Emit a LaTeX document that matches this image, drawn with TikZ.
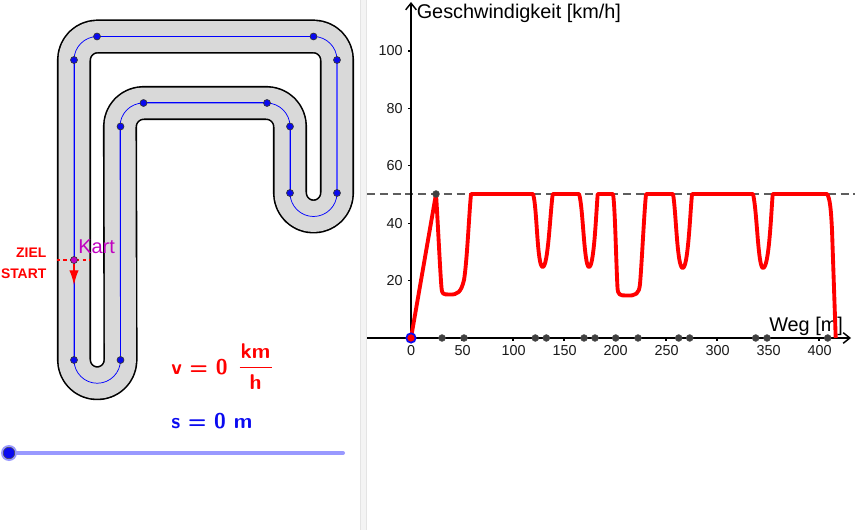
\documentclass[tikz,border=0pt]{standalone}
\usepackage{fontspec}
\setmainfont{Liberation Sans}
\usetikzlibrary{arrows.meta}
\definecolor{trackgray}{HTML}{D9D9D9}
\definecolor{ptblue}{HTML}{0A0AF0}
\definecolor{kartpurple}{HTML}{C000C0}
\definecolor{dotgray}{HTML}{404040}
\definecolor{slider}{HTML}{9999FF}
\definecolor{sep}{HTML}{E4E4E4}
\tikzset{
  pt/.style={circle,fill=ptblue,draw=black!80,line width=0.5pt,inner sep=0pt,minimum size=5.2pt},
  axdot/.style={circle,fill=dotgray,draw=black!70,line width=0.3pt,inner sep=0pt,minimum size=5.2pt},
  axisline/.style={line width=1.6pt,black,-{Straight Barb[length=5pt,width=8pt,line width=1.1pt]}},
  ticklab/.style={font=\fontsize{10.8pt}{12pt}\selectfont,inner sep=0pt,text=black!90},
  axtitle/.style={font=\fontsize{14.9pt}{16pt}\selectfont,inner sep=0pt,text=black},
  redlab/.style={font=\fontsize{10.4pt}{11pt}\selectfont\bfseries,text=red,inner sep=0pt,anchor=east},
  mathred/.style={font=\fontsize{16pt}{18pt}\selectfont\sffamily\bfseries,text=red,inner sep=0pt},
  mathblue/.style={font=\fontsize{16pt}{18pt}\selectfont\sffamily\bfseries,text=ptblue,inner sep=0pt},
}
\newcommand{\trackpath}{
  (74,60) arc[start angle=180,end angle=270,radius=23.5] -- (313.5,36.5)
  arc[start angle=270,end angle=360,radius=23.5] -- (337,193)
  arc[start angle=0,end angle=180,radius=23.5] -- (290,126.5)
  arc[start angle=0,end angle=-90,radius=23.5] -- (143.5,103)
  arc[start angle=-90,end angle=-180,radius=23.5] -- (120.5,360)
  arc[start angle=0,end angle=180,radius=23.25] -- cycle
}
\begin{document}
\begin{tikzpicture}[x=0.75pt,y=-0.75pt]
\useasboundingbox (0,0) rectangle (855,530);
% separator
\fill[sep!40] (360,0) rectangle (366,530);
\draw[sep,line width=0.6pt] (360,0) -- (360,530);
\draw[sep,line width=0.6pt] (366,0) -- (366,530);
% track
\draw[black,line width=25.6pt,line join=round] \trackpath;
\draw[trackgray,line width=23.2pt,line join=round] \trackpath;
\draw[blue,line width=0.55pt] \trackpath;
\draw[blue,line width=0.75pt] (74,60) -- (74,360) (120.5,126.5) -- (120.5,360) (97,36.5) -- (313.5,36.5) (143.5,103) -- (267,103) (290,126.5) -- (290,193);
\draw[blue!65,line width=1.2pt] (337,60) -- (337,193);
\foreach \n/\p in {a/{97,36.5},b/{313.5,36.5},c/{74,60},d/{337,60},e/{143.5,103},f/{267,103},g/{120.5,126.5},h/{290,126.5},i/{290,193},j/{337,193},k/{74,360},l/{120.5,360}}
  \node[pt] (p\n) at (\p) {};
% start line
\coordinate (sl) at (57,260); \coordinate (sr) at (90,260);
\draw[red,line width=1.7pt,dash pattern=on 2.4pt off 2.4pt] (sl) -- (sr);
\node[pt,fill=kartpurple] (kart) at (74,260) {};
\coordinate (arrowend) at (74,285);
\draw[red,line width=1pt,-{Latex[length=11pt,width=7pt]}] (kart) -- (arrowend);
\node[font=\fontsize{15pt}{16pt}\selectfont,text=kartpurple,inner sep=0pt,anchor=west] (kartlab) at (78,247) {Kart};
\node[redlab] (ziel) at (46.5,253) {ZIEL};
\node[redlab] (start) at (46.5,274) {START};
% formulas
\node[mathred,anchor=west] (v) at (171,367) {v = 0};
\node[mathred] (km) at (255.5,351.5) {km};
\node[mathred] (hh) at (255.5,382) {h};
\draw[red,line width=0.7pt] (239.5,367.5) -- (271.5,367.5);
\node[mathblue,anchor=west] (s) at (171,421) {s = 0 m};
% slider
\coordinate (sliderend) at (343,453);
\node[circle,fill=slider,inner sep=0pt,minimum size=12pt] (halo) at (9,453) {};
\draw[slider,line width=3pt,line cap=round] (halo.center) -- (sliderend);
\node[circle,fill=ptblue,draw=black!70,line width=0.4pt,inner sep=0pt,minimum size=8.6pt] (knob) at (9,453) {};
% graph
\coordinate (xs) at (367,338); \coordinate (xe) at (851,338);
\coordinate (ys) at (411,338); \coordinate (ye) at (411,2);
\coordinate (ds) at (367,194); \coordinate (de) at (855,194);
\draw[dotgray!85,line width=0.85pt,dash pattern=on 6pt off 3.6pt] (ds) -- (de);
\node[axtitle,anchor=west] (ytitle) at (416.5,13) {Geschwindigkeit [km/h]};
\node[axtitle,anchor=west] (xtitle) at (769,326) {Weg [m]};
\draw[axisline] (xs) -- (xe);
\draw[axisline] (ys) -- (ye);
\foreach \v in {50,100,...,400} {
  \pgfmathsetmacro{\px}{411+1.02*\v}
  \draw[black,line width=1pt] (\px,338) -- (\px,341.5);
  \node[ticklab] (xt\v) at (\px+0.6,351) {\v};
}
\node[ticklab] (xt0) at (411,351) {0};
\foreach \v in {20,40,...,100} {
  \pgfmathsetmacro{\py}{338-2.87*\v}
  \draw[black,line width=1pt] (408,\py) -- (411,\py);
  \node[ticklab,anchor=east] (yt\v) at (403,\py) {\v};
}
% gray points
\foreach \x in {442,464,535.3,546.3,584,595,615.7,638,678.7,689.7,755.7,767,827.7}
  \node[axdot] at (\x,338) {};
% curve
\draw[red,line width=2.9pt,line join=round]
  (411,338) -- (436,194)
  .. controls (438,225) and (440,270) .. (441.5,288)
  .. controls (442,294) and (443,294.5) .. (449,294.5)
  .. controls (458,295) and (461,292) .. (464,280)
  .. controls (467,262) and (469,215) .. (471,194)
  -- (533,194)
  .. controls (537,205) and (537,267) .. (542.7,267)
  .. controls (548,267) and (550,215) .. (552.7,194)
  -- (579,194)
  .. controls (583,205) and (584,267) .. (589,267)
  .. controls (594,267) and (596,215) .. (597.7,194)
  -- (613,194)
  .. controls (615,205) and (616,260) .. (617.5,288)
  .. controls (618,295) and (620,295.5) .. (626,295.5)
  .. controls (636,296) and (639,294) .. (640,284)
  .. controls (642,260) and (644,215) .. (646,194)
  -- (673,194)
  .. controls (676,210) and (677,268) .. (682.7,268)
  .. controls (688,268) and (690,215) .. (692,194)
  -- (753,194)
  .. controls (757,210) and (758,268) .. (763,268)
  .. controls (769,268) and (771,215) .. (772.7,194)
  -- (827,194)
  .. controls (830,198) and (831,210) .. (832,230)
  -- (835.7,338);
\node[axdot] (peak) at (436,194) {};
\node[circle,fill=red,draw=ptblue,line width=1.3pt,inner sep=0pt,minimum size=7pt] (origin) at (411,338) {};
\end{tikzpicture}
\end{document}
